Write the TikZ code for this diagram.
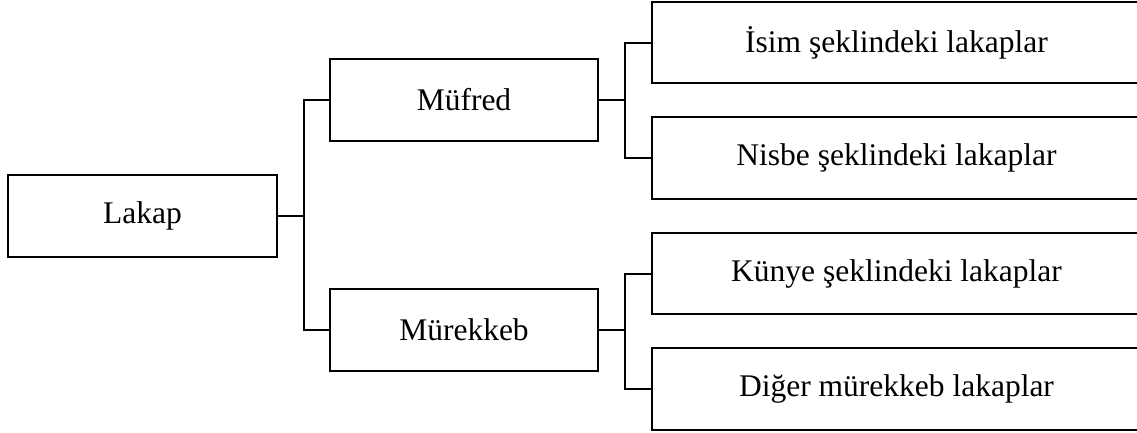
\documentclass[tikz,border=0pt]{standalone}
\usepackage{fontspec}
\setmainfont{Liberation Serif}
\begin{document}
\begin{tikzpicture}[x=1pt,y=-1pt,
  box/.style={draw,line width=2pt,inner sep=0pt,font=\fontsize{31.5}{36}\selectfont},
  link/.style={line width=2pt}]
\useasboundingbox (0,0) rectangle (1137,432);
\clip (0,0) rectangle (1137,432);
\node[box,minimum width=269pt,minimum height=82pt] (lakap) at (142.5,216) {Lakap};
\node[box,minimum width=268pt,minimum height=82pt] (muf) at (464,100) {Müfred};
\node[box,minimum width=268pt,minimum height=82pt] (mur) at (464,330) {Mürekkeb};
\node[box,minimum width=489pt,minimum height=81pt] (r1) at (896.5,42.5) {İsim şeklindeki lakaplar};
\node[box,minimum width=489pt,minimum height=82pt] (r2) at (896.5,158) {Nisbe şeklindeki lakaplar};
\node[box,minimum width=489pt,minimum height=81pt] (r3) at (896.5,273.5) {Künye şeklindeki lakaplar};
\node[box,minimum width=489pt,minimum height=82pt] (r4) at (896.5,389) {Diğer mürekkeb lakaplar};
\coordinate (j1) at (304,216);
\coordinate (j2) at (625,100);
\coordinate (j3) at (625,330);
\draw[link] (lakap.east) -- (j1);
\draw[link] (muf.west) -| (j1) |- (mur.west);
\draw[link] (muf.east) -- (j2);
\draw[link] (r1.west) -| (j2) |- (r2.west);
\draw[link] (mur.east) -- (j3);
\draw[link] (r3.west) -| (j3) |- (r4.west);
\end{tikzpicture}
\end{document}
